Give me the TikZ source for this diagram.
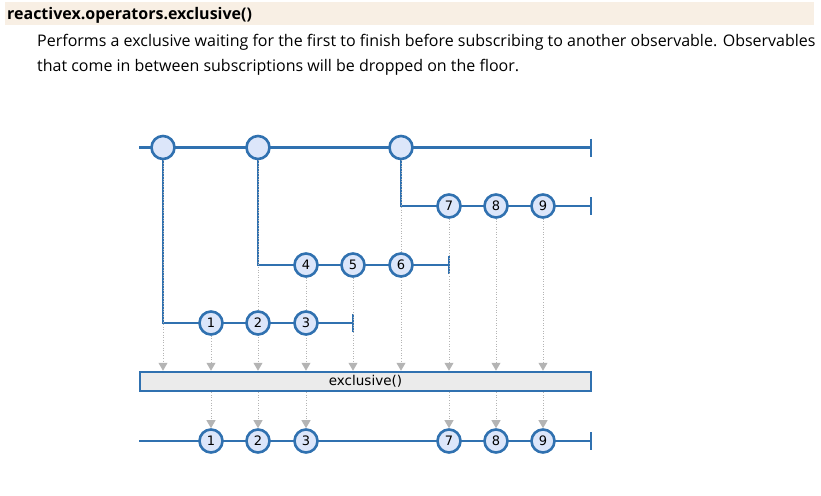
\documentclass[tikz,border=0pt]{standalone}
\usepackage{fontspec}
\setmainfont{Open Sans}
\newfontfamily\marblefont{DejaVu Sans}
\usetikzlibrary{arrows.meta,backgrounds}
\definecolor{rxblue}{HTML}{3071B0}
\definecolor{rxfill}{HTML}{DCE6FA}
\definecolor{rxbox}{HTML}{EBEBEB}
\definecolor{rxgray}{HTML}{B4B4B4}
\definecolor{headbg}{HTML}{F8EFE4}
\tikzset{
  wire/.style={rxblue,line width=2.6pt},
  marble/.style={circle,draw=rxblue,line width=2.6pt,fill=rxfill,inner sep=0pt,
    minimum size=23pt,font=\marblefont\fontsize{13}{13}\selectfont},
  opbox/.style={draw=rxblue,line width=2.5pt,fill=rxbox,inner sep=0pt,
    minimum width=451pt,minimum height=19pt,font=\marblefont\fontsize{13.5}{13.5}\selectfont},
  feed/.style={rxgray,line width=1pt,dash pattern=on 1pt off 1.6pt,
    -{Triangle[width=9pt,length=8pt]}},
  plaintext/.style={anchor=base west,inner sep=0pt}
}
\begin{document}
\begin{tikzpicture}[x=1pt,y=-1pt]
  \useasboundingbox (0,0) rectangle (821,495);
  \fill[headbg] (5,2) rectangle (814,25);
  \node[plaintext,font=\bfseries\fontsize{16}{19}\selectfont] (title) at (7,19.3)
    {reactivex.operators.exclusive()};
  \node[plaintext,font=\fontsize{16}{19}\selectfont] (desc1) at (37,46)
    {Performs a exclusive waiting for the first to finish before subscribing to another observable. Observables};
  \node[plaintext,font=\fontsize{16}{19}\selectfont] (desc2) at (37,71)
    {that come in between subscriptions will be dropped on the floor.};

  \node[marble] (o1) at (163,147.5) {};
  \node[marble] (o2) at (258,147.5) {};
  \node[marble] (o3) at (401,147.5) {};
  \foreach \n/\x in {1/211,2/258,3/306} \node[marble] (a\n) at (\x,323) {\n};
  \foreach \n/\x in {4/306,5/353,6/401} \node[marble] (b\n) at (\x,265) {\n};
  \foreach \n/\x in {7/449,8/496,9/543} \node[marble] (c\n) at (\x,206) {\n};
  \node[opbox] (op) at (365.5,381.5) {exclusive()};
  \foreach \n/\x in {1/211,2/258,3/306,7/449,8/496,9/543} \node[marble] (r\n) at (\x,441) {\n};

  \coordinate (s0) at (139,147.5); \coordinate (t0) at (591,147.5);
  \coordinate (k1) at (163,323);   \coordinate (t1) at (353,323);
  \coordinate (k2) at (258,265);   \coordinate (t2) at (449,265);
  \coordinate (k3) at (401,206);   \coordinate (t3) at (591,206);
  \coordinate (s4) at (139,441);   \coordinate (t4) at (591,441);

  \begin{scope}[on background layer]
    \draw[wire] (s0) -- (t0);
    \draw[wire] (o1) -- (k1) -- (t1);
    \draw[wire] (o2) -- (k2) -- (t2);
    \draw[wire] (o3) -- (k3) -- (t3);
    \draw[wire] (s4) -- (t4);
    \foreach \e in {t0,t1,t2,t3,t4} \draw[wire] ([yshift=9pt]\e) -- ([yshift=-9pt]\e);
    \foreach \m in {o1,a1,o2,b4,b5,o3,c7,c8,c9} \draw[feed] (\m) -- (\m |- op.north);
    \foreach \m in {1,2,3,7,8,9} \draw[feed] (op.south -| r\m) -- (r\m.north);
  \end{scope}
\end{tikzpicture}
\end{document}
